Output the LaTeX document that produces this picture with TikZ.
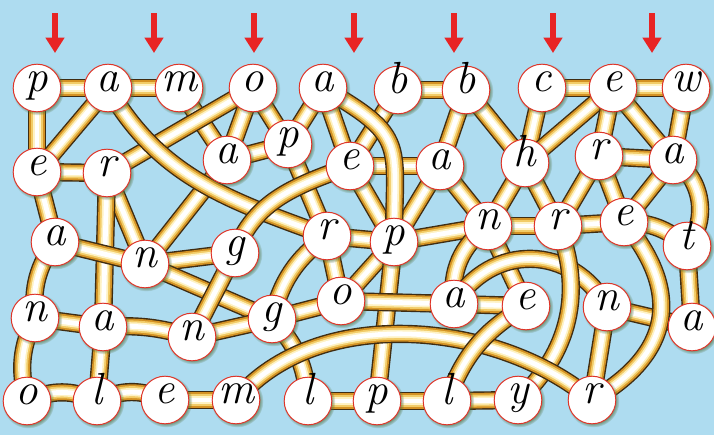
\documentclass[tikz,border=0pt]{standalone}
\usetikzlibrary{arrows.meta,shadows}
\definecolor{skyBack}{RGB}{174,220,240}
\definecolor{tubeEdge}{RGB}{62,44,18}
\definecolor{tubeGold}{RGB}{212,146,36}
\definecolor{tubeYellow}{RGB}{242,204,104}
\definecolor{tubeCream}{RGB}{254,242,196}
\definecolor{ringRed}{RGB}{222,52,40}
\definecolor{arrowRed}{RGB}{232,36,36}
\definecolor{ballShadow}{RGB}{80,110,60}
\pgfdeclarelayer{backdrop}
\pgfdeclarelayer{pipes}
\pgfsetlayers{backdrop,pipes,main}

\begin{document}
\begin{tikzpicture}[x=0.025cm, y=-0.025cm,
circLetter/.style={circle, draw=ringRed, line width=0.7pt, fill=white, minimum size=1.19cm, inner sep=0pt, font=\fontsize{32}{32}\selectfont\itshape, text height=1ex, text depth=0pt, circular drop shadow={shadow xshift=0.8pt, shadow yshift=-0.8pt, fill=ballShadow, opacity=0.6}},
tubeLink/.style={draw=white, line width=3.4pt, preaction={draw=tubeEdge, line width=13pt}, preaction={draw=tubeGold, line width=11pt}, preaction={draw=tubeYellow, line width=8.4pt}, preaction={draw=tubeCream, line width=5.8pt}},
arrowDown/.style={draw=arrowRed, line width=3.8pt, -{Triangle[width=13pt, length=11pt]}}
]

\useasboundingbox (0,0) rectangle (714,435);
\begin{pgfonlayer}{backdrop}
\fill[skyBack] (0,0) rectangle (714,435);
\end{pgfonlayer}

% arrows over the columns
\foreach \x [count=\i] in {55,154,254,354,454,553,652} {
  \coordinate (arrTop\i) at (\x, 13);
  \coordinate (arrTip\i) at (\x, 53);
  \draw[arrowDown] (arrTop\i) -- (arrTip\i);
}

% row 1
\node[circLetter] (L11) at (37, 88) {p};
\node[circLetter] (L12) at (108, 88) {a};
\node[circLetter] (L13) at (179, 88) {m};
\node[circLetter] (L14) at (253, 88) {o};
\node[circLetter] (L15) at (323, 88) {a};
\node[circLetter] (L16) at (398, 90) {b};
\node[circLetter] (L17) at (466, 90) {b};
\node[circLetter] (L18) at (542, 88) {c};
\node[circLetter] (L19) at (613, 88) {e};
\node[circLetter] (L110) at (686, 88) {w};

% row 2
\node[circLetter] (L21) at (37, 172) {e};
\node[circLetter] (L22) at (107, 173) {r};
\node[circLetter] (L23) at (227, 160) {a};
\node[circLetter] (L24) at (288, 144) {p};
\node[circLetter] (L25) at (350, 166) {e};
\node[circLetter] (L26) at (440, 166) {a};
\node[circLetter] (L27) at (525, 163) {h};
\node[circLetter] (L28) at (599, 156) {r};
\node[circLetter] (L29) at (673, 160) {a};

% row 3
\node[circLetter] (L31) at (55, 242) {a};
\node[circLetter] (L32) at (145, 264) {n};
\node[circLetter] (L33) at (235, 253) {g};
\node[circLetter] (L34) at (327, 236) {r};
\node[circLetter] (L35) at (394, 242) {p};
\node[circLetter] (L36) at (488, 226) {n};
\node[circLetter] (L37) at (558, 226) {r};
\node[circLetter] (L38) at (624, 222) {e};
\node[circLetter] (L39) at (687, 246) {t};

% row 4
\node[circLetter] (L41) at (35, 318) {n};
\node[circLetter] (L42) at (103, 327) {a};
\node[circLetter] (L43) at (192, 337) {n};
\node[circLetter] (L44) at (272, 319) {g};
\node[circLetter] (L45) at (341, 301) {o};
\node[circLetter] (L46) at (454, 304) {a};
\node[circLetter] (L47) at (526, 306) {e};
\node[circLetter] (L48) at (607, 307) {n};
\node[circLetter] (L49) at (692, 327) {a};

% row 5
\node[circLetter] (L51) at (27, 401) {o};
\node[circLetter] (L52) at (97, 401) {l};
\node[circLetter] (L53) at (165, 400) {e};
\node[circLetter] (L54) at (236, 400) {m};
\node[circLetter] (L55) at (308, 401) {l};
\node[circLetter] (L56) at (377, 401) {p};
\node[circLetter] (L57) at (447, 401) {l};
\node[circLetter] (L58) at (518, 400) {y};
\node[circLetter] (L59) at (592, 400) {r};

\begin{pgfonlayer}{pipes}
% straight tubes
\foreach \a/\b in {L11/L12, L12/L13, L11/L21, L12/L21, L13/L23, L14/L22, L14/L23, L14/L24,
  L15/L24, L15/L25, L16/L17, L16/L25, L17/L26, L17/L27, L18/L19, L18/L27, L19/L110,
  L19/L27, L19/L28, L19/L29, L110/L29,
  L21/L22, L21/L31, L22/L32, L22/L42, L23/L24, L23/L32, L24/L34, L25/L26, L25/L35,
  L26/L35, L26/L36, L27/L36, L27/L37, L28/L29, L28/L37, L28/L38, L29/L38,
  L31/L32, L32/L33, L32/L44, L33/L43, L34/L35, L34/L45, L35/L36, L35/L45, L35/L56,
  L36/L37, L36/L47, L37/L38, L39/L49,
  L41/L42, L42/L52, L43/L44, L44/L45, L45/L46, L46/L47, L48/L49, L48/L59,
  L53/L54, L55/L56, L56/L57, L57/L58}
  \draw[tubeLink] (\a.center) -- (\b.center);

% curved tubes
\draw[tubeLink] (L12.center) to[out=-60, in=160] (L34.center);
\draw[tubeLink] (L33.center) to[out=70, in=200] (L25.center);
\draw[tubeLink] (L15.center) to[out=-30, in=90, looseness=1.5] (L35.center);
\draw[tubeLink] (L31.center) to[bend right=20] (L41.center);
\draw[tubeLink] (L41.center) to[bend right=20] (L51.center);
\draw[tubeLink] (L51.center) to[bend left=25] (L52.center);
\draw[tubeLink] (L52.center) to[bend left=25] (L53.center);
\draw[tubeLink] (L34.center) to[bend right=20] (L44.center);
\draw[tubeLink] (L42.center) to[bend left=10] (L43.center);
\draw[tubeLink] (L44.center) to[bend left=20] (L55.center);
\draw[tubeLink] (L36.center) to[bend right=30] (L46.center);
\draw[tubeLink] (L46.center) to[bend left=60, looseness=1.2] (L48.center);
\draw[tubeLink] (L37.center) to[bend left=35] (L58.center);
\draw[tubeLink] (L38.center) to[bend left=50, looseness=1.3] (L59.center);
\draw[tubeLink] (L29.center) to[bend left=50] (L39.center);
\draw[tubeLink] (L38.center) to[bend left=20] (L39.center);
\draw[tubeLink] (L54.center) to[out=50, in=140, looseness=0.9] (L59.center);
\draw[tubeLink] (L47.center) to[bend right=20] (L57.center);
\end{pgfonlayer}

\end{tikzpicture}
\end{document}
